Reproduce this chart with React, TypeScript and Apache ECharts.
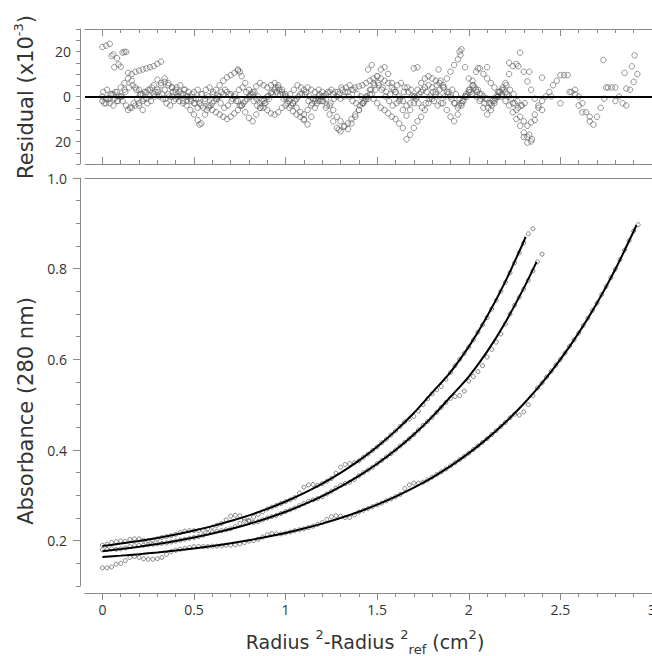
import React, { useEffect, useRef } from "react";
import * as echarts from "echarts";

// ---------- axis ticks / labels ----------
const X_MIN = -0.095;
const X_MAX = 3.0;
const xMajorTicks = [0, 0.5, 1, 1.5, 2, 2.5, 3];
const xMajorLabels = ["0", "0.5", "1", "1.5", "2", "2.5", "3"];
const xMinorTicks = [0, 0.1, 0.2, 0.3, 0.4, 0.5, 0.6, 0.7, 0.8, 0.9, 1.0, 1.1, 1.2, 1.3, 1.4, 1.5, 1.6, 1.7, 1.8, 1.9, 2.0, 2.1, 2.2, 2.3, 2.4, 2.5, 2.6, 2.7, 2.8, 2.9, 3.0];
const absMajorTicks = [0.2, 0.4, 0.6, 0.8, 1.0];
const absMajorLabels = ["0.2", "0.4", "0.6", "0.8", "1.0"];
const resLabelValues = [-20, 0, 20];
const resLabels = ["20", "0", "20"];

// ---------- fitted curves (absorbance) ----------
const fitXA = [0, 0.1, 0.2, 0.3, 0.4, 0.5, 0.6, 0.7, 0.8, 0.9, 1.0, 1.1, 1.2, 1.3, 1.4, 1.5, 1.6, 1.7, 1.8, 1.9, 2.0, 2.1, 2.2, 2.3, 2.31];
const fitA = [0.188, 0.1935, 0.1994, 0.2061, 0.2137, 0.2223, 0.2321, 0.2432, 0.2558, 0.2701, 0.2864, 0.3048, 0.3258, 0.3496, 0.3766, 0.4073, 0.4422, 0.4817, 0.5267, 0.572, 0.628, 0.695, 0.772, 0.86, 0.87];
const fitXB = [0, 0.1, 0.2, 0.3, 0.4, 0.5, 0.6, 0.7, 0.8, 0.9, 1.0, 1.1, 1.2, 1.3, 1.4, 1.5, 1.6, 1.7, 1.8, 1.9, 2.0, 2.1, 2.2, 2.3, 2.37];
const fitB = [0.1769, 0.1815, 0.1868, 0.1928, 0.1995, 0.2072, 0.2159, 0.2257, 0.2369, 0.2495, 0.2638, 0.28, 0.2984, 0.3192, 0.3428, 0.3696, 0.3999, 0.4342, 0.4731, 0.5172, 0.562, 0.617, 0.682, 0.757, 0.815];
const fitXC = [0, 0.1, 0.2, 0.3, 0.4, 0.5, 0.6, 0.7, 0.8, 0.9, 1.0, 1.1, 1.2, 1.3, 1.4, 1.5, 1.6, 1.7, 1.8, 1.9, 2.0, 2.1, 2.2, 2.3, 2.4, 2.5, 2.6, 2.7, 2.8, 2.9, 2.915];
const fitC = [0.164, 0.167, 0.1702, 0.1739, 0.1781, 0.1828, 0.1881, 0.1941, 0.2009, 0.2085, 0.217, 0.2267, 0.2376, 0.2499, 0.2637, 0.2794, 0.297, 0.3169, 0.3392, 0.3645, 0.393, 0.4251, 0.4613, 0.5021, 0.5481, 0.6, 0.6584, 0.7244, 0.7987, 0.8826, 0.896];

// ---------- measured absorbance (x from 0, every 0.025) ----------
const DATA_STEP = 0.025;
const dataA = [
  0.190, 0.192, 0.196, 0.198, 0.199, 0.198, 0.203, 0.204, 0.204, 0.201,
  0.200, 0.201, 0.204, 0.207, 0.209, 0.211, 0.214, 0.218, 0.221, 0.222,
  0.222, 0.222, 0.223, 0.226, 0.230, 0.234, 0.238, 0.246, 0.254, 0.256,
  0.255, 0.248, 0.245, 0.252, 0.258, 0.264, 0.270, 0.274, 0.278, 0.282,
  0.286, 0.290, 0.295, 0.305, 0.318, 0.323, 0.324, 0.322, 0.326, 0.331,
  0.337, 0.349, 0.362, 0.368, 0.370, 0.372, 0.376, 0.384, 0.391, 0.399,
  0.407, 0.416, 0.424, 0.433, 0.442, 0.452, 0.462, 0.468, 0.474, 0.486,
  0.500, 0.513, 0.524, 0.533, 0.540, 0.556, 0.571, 0.586, 0.600, 0.613,
  0.627, 0.643, 0.660, 0.676, 0.692, 0.711, 0.730, 0.750, 0.770, 0.791,
  0.813, 0.835, 0.857, 0.877, 0.888,
];
const dataB = [
  0.180, 0.181, 0.182, 0.181, 0.182, 0.184, 0.187, 0.189, 0.190, 0.190,
  0.191, 0.192, 0.193, 0.194, 0.195, 0.197, 0.199, 0.201, 0.203, 0.205,
  0.207, 0.209, 0.212, 0.216, 0.219, 0.221, 0.222, 0.224, 0.226, 0.231,
  0.238, 0.243, 0.243, 0.240, 0.242, 0.246, 0.250, 0.253, 0.256, 0.260,
  0.264, 0.268, 0.272, 0.277, 0.282, 0.287, 0.290, 0.293, 0.297, 0.303,
  0.309, 0.316, 0.322, 0.326, 0.329, 0.335, 0.343, 0.350, 0.356, 0.362,
  0.370, 0.377, 0.385, 0.392, 0.400, 0.409, 0.417, 0.425, 0.434, 0.444,
  0.454, 0.463, 0.472, 0.483, 0.494, 0.505, 0.514, 0.518, 0.520, 0.530,
  0.552, 0.562, 0.573, 0.586, 0.605, 0.622, 0.638, 0.656, 0.678, 0.700,
  0.719, 0.737, 0.755, 0.774, 0.795, 0.815, 0.832,
];
const dataC = [
  0.140, 0.140, 0.142, 0.148, 0.150, 0.156, 0.163, 0.165, 0.163, 0.160,
  0.159, 0.159, 0.160, 0.163, 0.170, 0.176, 0.179, 0.181, 0.183, 0.185,
  0.187, 0.187, 0.187, 0.187, 0.188, 0.188, 0.189, 0.190, 0.190, 0.191,
  0.193, 0.196, 0.199, 0.200, 0.203, 0.208, 0.213, 0.216, 0.215, 0.215,
  0.217, 0.219, 0.222, 0.224, 0.226, 0.229, 0.232, 0.236, 0.240, 0.247,
  0.253, 0.255, 0.254, 0.251, 0.251, 0.257, 0.263, 0.267, 0.271, 0.275,
  0.279, 0.283, 0.288, 0.292, 0.297, 0.302, 0.315, 0.323, 0.327, 0.327,
  0.329, 0.334, 0.340, 0.346, 0.352, 0.358, 0.365, 0.372, 0.379, 0.386,
  0.393, 0.401, 0.409, 0.417, 0.425, 0.434, 0.443, 0.452, 0.461, 0.471,
  0.479, 0.477, 0.484, 0.500, 0.520, 0.537, 0.548, 0.561, 0.574, 0.587,
  0.600, 0.614, 0.629, 0.643, 0.658, 0.675, 0.691, 0.708, 0.724, 0.743,
  0.761, 0.780, 0.799, 0.820, 0.841, 0.862, 0.883, 0.897,
];

// ---------- residuals (x10^-3), every 0.02 ----------
const RES_STEP = 0.02;
const resA = [
  22, 22.6, 23.4, 18.7, 17, 13.2, 19.8, 10.5, 7, 4,
  3, 1, 2, 3, 5, 7.5, 6, 3, 1, 0,
  -1, -2, -3, -2, 0, 2, 3, 1, -1, -4,
  -6, -7, -8, -9, -10, -9, -7.5, -6, -4, -2,
  0, 2, 4.5, 6, 5, 4, 5, 6, 5, 3,
  1, -1, -3, -5, -7, -10, -12.4, -9, -5, -2,
  0, 1, 2, 1, 0, -1, 0, 2, 3, 4,
  4.5, 5, 6, 7, 8, 9, 8, 7, 6, 4,
  2, 0, -2, -4, -3, 0, 3, 6, 8, 9,
  8, 7, 6, 4, 2, 0, -3, -5, -3, 0,
  3, 7, 11, 12.5, 10, 8, 6, 4, 2, 0,
  -2, -4, -7, -10, -13, -16, -18, -20,
];
const resB = [
  -2, -3, -1, 1, 2, 4, 6, 8, 10, 11,
  11.5, 12, 12.5, 13, 13.5, 14.5, 15.5, 8, 6, 4,
  3, 2, 1, 0, -1, -3, -5, -4, -2, 0,
  1, 3, 5, 7, 8.5, 9.5, 10.5, 11.5, 9, 6,
  3, 1, -1, -3, -5, -6, -7.5, -8, -7, -5,
  -4, -5, -6.5, -8, -9, -8, -6, -4, -2, 0,
  -2, -5, -8, -11, -14, -15.5, -13.5, -12, -10, -8,
  -6, -3, 0, 3, 6, 9, 12, 13, 10, 6,
  2, -2, -6, -8.5, -6, -3, 0, 2, 4, 5,
  4, 2, 0, -3, -6, -9, -11, -8, -4, 0,
  2, 1, 0, -2, -5, -8, -6, -3, 0, 3,
  6, 10, 13.5, 14.5, 19.5, 11, 6.7, 3, -1, -4,
  -6,
];
const resC = [
  0, -1, -3, -4, -2, 0, 3, -6, -5, -4,
  -3, -2, -1, 0, 1, 3, 5, 6.5, 5, 4,
  2, 0, -2, -4, -6, -8, -10.5, -12, -8, -5,
  -3, -1, 0, 1, 2, 1, 0, -2, -4, -7,
  -9.5, -11, -8, -5, -2, 0, 1.5, 3, 4, 2,
  0, -2, -3, -1, 1, 3, 4, 3, 2, 3,
  2, -1, -4, -6, -9, -11, -13, -14.5, -12, -9,
  -6, -3, -1, 1, -1, -3, -5, -6, -7.5, -9,
  -10, -12, -14, -19, -17, -14, -11, -9, -6, -3,
  -1, 1, 3, 5, 8, 11, 14, 16.5, 21, 13,
  8, 5, 3, 1, 0, -1, -3, -2, 0, 1,
  2, 0, -3, -6, -9, -11, -13, -11.5, -8, -5,
  -2, 0, 2, 5, 7, 9.5, 9.5, 9.5, 2, 1,
  0, -3, -7, -11, -12.5, -9, -5, -1, 4, 4,
  4, 0, -3, -4, 3, 6.5, 10,
];
// x from 0.01 every 0.02
const resD = [
  -3, -1, 1, 2, 0, -2, -4, -5, -3, -1,
  1, 2, 3, 4, 2, 0, -1, -3, -4, -2,
  0, 1, 3, 2, 1, -1, -3, -5, -6, -4,
  -2, 0, 2, 3, 1, -1, -2, -4, -3, -1,
  1, 2, 0, -2, -3, -1, 1, 2, 1, -1,
  -3, -4, -2, 0, 1, 2, 0, -1, -3, -2,
  0, 2, 3, 2, 1, 3, 4, 5, 3, 1,
  0, -2, -1, 1, 3, 5, 4, 2, 1, 3,
  5, 6, 4, 2, 0, -1, 1, 3, 2, 0,
  -2, -4, -3, 0, 2, 3, 1, -1, -2, 0,
  2, 4, 3, 1, -1, -3, -2, 0, 2, 3,
  1, -1, -3, -5, -4,
];
// x from 0.005 every 0.02
const resE = [
  2, 3, 1, -1, -2, 0, 2, 4, 5, 3,
  1, -1, -3, -2, 0, 2, 1, -1, 0, 2,
  4, 5, 3, 0, -2, -3, -1, 1, 3, 4,
  2, -1, -3, -5, -4, -2, 1, 3, 4, 2,
  0, -2, -4, -5, -3, 0, 2, 4, 3, 1,
  -1, 1, 3, 5, 4, 1, -2, -3, -1, 1,
  -2, -4, -3, -1, 2, 4, 2, 0, -2, -3,
  -4, -3, 0, 3, 5, 6, 3, 0, -2, -4,
  -3, -1, 2, 4, 3, 0, -3, -5, -3, -1,
  2, 5, 7, 4, 1, -1, -3, -4, -2, 1,
  3, 5, 2, -1, -3, -5, -4, -1, 2, 4,
  5, 3, 1, -2, -4, -3,
];
const resExtra = [
  [0.11, 19.5], [0.13, 19.8], [0.065, 13], [0.088, 14.2], [0.05, 18], [0.2, -4], [0.22, -6],
  [0.74, 12], [0.75, 11], [1.1, -10.5], [1.835, 12], [1.95, 20], [1.955, 18.5], [2.22, 15],
  [2.27, 13.5], [2.3, -18], [2.32, -20.5], [2.33, -17], [2.345, -19], [2.735, 16.2], [2.85, 10.5],
  [2.89, 13.4], [2.905, 18.3], [2.4, 8.4], [2.33, 11], [1.45, 12], [1.47, 14], [1.7, 12.5],
  [1.72, 13], [2.05, 12.5], [2.1, 13], [0.53, -12.5], [1.29, -14.7], [2.36, -10.5], [2.62, -7],
  [2.66, -9], [2.6, -4], [2.5, -3], [2.55, 2], [2.58, 3], [2.45, 0], [2.75, 4], [2.8, -2], [2.86, 3.5],
];

const toPairs = (vals: number[], start: number, step: number) =>
  vals.map((v, i) => [Number((start + i * step).toFixed(4)), v]);
const zip = (xs: number[], ys: number[]) => xs.map((x, i) => [x, ys[i]]);

const AXIS_GRAY = "#8a8a8a";
const TEXT = "#333333";
const TICK_FONT = "Open Sans";
const TITLE_FONT = "DejaVu Sans";

const near = (a: number, b: number) => Math.abs(a - b) < 1e-6;

export default function App() {
  const ref = useRef<HTMLDivElement>(null);

  useEffect(() => {
    if (!ref.current) return;
    const chart = echarts.init(ref.current, null, { renderer: "svg" });

    const baseX = (gridIndex: number, position: string, extra: any) => ({
      type: "value",
      gridIndex,
      position,
      min: X_MIN,
      max: X_MAX,
      splitLine: { show: false },
      axisLabel: { show: false },
      ...extra,
    });

    const resMarker = {
      type: "scatter",
      xAxisIndex: 0,
      yAxisIndex: 0,
      symbol: "circle",
      symbolSize: 5.5,
      itemStyle: { color: "rgba(255,255,255,0)", borderColor: "#5a5a5a", borderWidth: 0.8 },
      silent: true,
    };
    const absMarker = {
      type: "scatter",
      xAxisIndex: 4,
      yAxisIndex: 1,
      symbol: "circle",
      symbolSize: 4,
      itemStyle: { color: "rgba(255,255,255,0)", borderColor: "#555555", borderWidth: 0.9 },
      silent: true,
    };
    const fitLine = {
      type: "line",
      xAxisIndex: 4,
      yAxisIndex: 1,
      showSymbol: false,
      symbol: "none",
      smooth: 0.3,
      lineStyle: { color: "#000", width: 2 },
      silent: true,
      z: 5,
    };

    const option: any = {
      animation: false,
      backgroundColor: "#ffffff",
      grid: [
        { left: 85, right: 0, top: 29, height: 135, containLabel: false, outerBoundsMode: "none" },
        { left: 85, right: 0, top: 178, height: 408, containLabel: false, outerBoundsMode: "none" },
      ],
      xAxis: [
        baseX(0, "bottom", {
          axisLine: { show: true, onZero: false, lineStyle: { color: AXIS_GRAY, width: 1 } },
          axisTick: { show: true, inside: true, length: 4, customValues: xMinorTicks, lineStyle: { color: AXIS_GRAY } },
        }),
        baseX(0, "bottom", {
          axisLine: { show: false, onZero: false },
          axisTick: { show: true, inside: true, length: 7, customValues: xMajorTicks, lineStyle: { color: AXIS_GRAY } },
        }),
        baseX(0, "top", {
          axisLine: { show: true, onZero: false, lineStyle: { color: AXIS_GRAY, width: 1 } },
          axisTick: { show: true, inside: true, length: 4, customValues: xMinorTicks, lineStyle: { color: AXIS_GRAY } },
        }),
        baseX(0, "top", {
          axisLine: { show: false, onZero: false },
          axisTick: { show: true, inside: true, length: 7, customValues: xMajorTicks, lineStyle: { color: AXIS_GRAY } },
        }),
        baseX(1, "bottom", {
          offset: 7,
          axisLine: { show: true, onZero: false, lineStyle: { color: AXIS_GRAY, width: 1 } },
          axisTick: { show: true, inside: false, length: 4, customValues: xMinorTicks, lineStyle: { color: AXIS_GRAY } },
        }),
        baseX(1, "bottom", {
          offset: 7,
          axisLine: { show: false, onZero: false },
          axisTick: { show: true, inside: false, length: 7, customValues: xMajorTicks, lineStyle: { color: AXIS_GRAY } },
          axisLabel: {
            show: true,
            customValues: xMajorTicks,
            margin: 9,
            color: TEXT,
            fontFamily: TICK_FONT,
            fontSize: 14,
            alignMaxLabel: "center",
            alignMinLabel: "center",
            formatter: (v: number) => {
              const i = xMajorTicks.findIndex((t) => near(t, v));
              return i >= 0 ? xMajorLabels[i] : "";
            },
          },
        }),
        baseX(1, "top", {
          axisLine: { show: true, onZero: false, lineStyle: { color: AXIS_GRAY, width: 1 } },
          axisTick: { show: false },
        }),
      ],
      yAxis: [
        {
          type: "value",
          gridIndex: 0,
          position: "left",
          offset: 5,
          min: -30,
          max: 30,
          interval: 5,
          splitLine: { show: false },
          axisLine: { show: true, onZero: false, lineStyle: { color: AXIS_GRAY, width: 1 } },
          axisTick: { show: true, inside: false, length: 4, lineStyle: { color: AXIS_GRAY } },
          axisLabel: {
            show: true,
            margin: 9,
            color: TEXT,
            fontFamily: TICK_FONT,
            fontSize: 14,
            formatter: (v: number) => {
              const i = resLabelValues.findIndex((t) => near(t, v));
              return i >= 0 ? resLabels[i] : "";
            },
          },
        },
        {
          type: "value",
          gridIndex: 1,
          position: "left",
          offset: 5,
          min: 0.1,
          max: 1.0,
          interval: 0.05,
          splitLine: { show: false },
          axisLine: { show: true, onZero: false, lineStyle: { color: AXIS_GRAY, width: 1 } },
          axisTick: { show: true, inside: false, length: 4, lineStyle: { color: AXIS_GRAY } },
          axisLabel: { show: false },
        },
        {
          type: "value",
          gridIndex: 1,
          position: "left",
          offset: 5,
          min: 0.1,
          max: 1.0,
          splitLine: { show: false },
          axisLine: { show: false, onZero: false },
          axisTick: { show: true, inside: false, length: 7, customValues: absMajorTicks, lineStyle: { color: AXIS_GRAY } },
          axisLabel: {
            show: true,
            customValues: absMajorTicks,
            margin: 13,
            color: TEXT,
            fontFamily: TICK_FONT,
            fontSize: 14,
            formatter: (v: number) => {
              const i = absMajorTicks.findIndex((t) => near(t, v));
              return i >= 0 ? absMajorLabels[i] : "";
            },
          },
        },
      ],
      series: [
        {
          ...resMarker,
          data: toPairs(resA, 0, RES_STEP),
          markLine: {
            silent: true,
            symbol: ["none", "none"],
            label: { show: false },
            lineStyle: { color: "#000", width: 2, type: "solid" },
            data: [{ yAxis: 0 }],
            z: 10,
          },
        },
        { ...resMarker, data: toPairs(resB, 0, RES_STEP) },
        { ...resMarker, data: toPairs(resC, 0, RES_STEP) },
        { ...resMarker, data: toPairs(resD, 0.01, RES_STEP) },
        { ...resMarker, data: toPairs(resE, 0.005, RES_STEP) },
        { ...resMarker, data: resExtra },
        { ...absMarker, data: toPairs(dataA, 0, DATA_STEP) },
        { ...absMarker, data: toPairs(dataB, 0, DATA_STEP) },
        { ...absMarker, data: toPairs(dataC, 0, DATA_STEP) },
        { ...fitLine, data: zip(fitXA, fitA) },
        { ...fitLine, data: zip(fitXB, fitB) },
        { ...fitLine, data: zip(fitXC, fitC) },
      ],
      graphic: [
        {
          type: "text",
          x: 26,
          y: 97,
          rotation: Math.PI / 2,
          style: {
            text: "Residual (x10{sup|-3})",
            fontFamily: TITLE_FONT,
            fontSize: 21,
            fill: TEXT,
            align: "center",
            verticalAlign: "middle",
            lineHeight: 28,
            rich: {
              sup: { fontFamily: TITLE_FONT, fontSize: 13, fill: TEXT, verticalAlign: "top" },
            },
          },
        },
        {
          type: "text",
          x: 26,
          y: 411,
          rotation: Math.PI / 2,
          style: {
            text: "Absorbance (280 nm)",
            fontFamily: TITLE_FONT,
            fontSize: 21,
            fill: TEXT,
            align: "center",
            verticalAlign: "middle",
          },
        },
        {
          type: "text",
          x: 365,
          y: 642,
          style: {
            text: "Radius {sup|2}-Radius {sup|2}{sub|ref} (cm{sup|2})",
            fontFamily: TITLE_FONT,
            fontSize: 19,
            fill: TEXT,
            align: "center",
            verticalAlign: "middle",
            lineHeight: 28,
            rich: {
              sup: { fontFamily: TITLE_FONT, fontSize: 13, fill: TEXT, verticalAlign: "top" },
              sub: { fontFamily: TITLE_FONT, fontSize: 13, fill: TEXT, verticalAlign: "bottom" },
            },
          },
        },
      ],
    };

    chart.setOption(option);
    return () => chart.dispose();
  }, []);

  return (
    <div
      ref={ref}
      style={{ position: "fixed", left: 0, top: 0, width: 652, height: 656, background: "#fff" }}
    />
  );
}
